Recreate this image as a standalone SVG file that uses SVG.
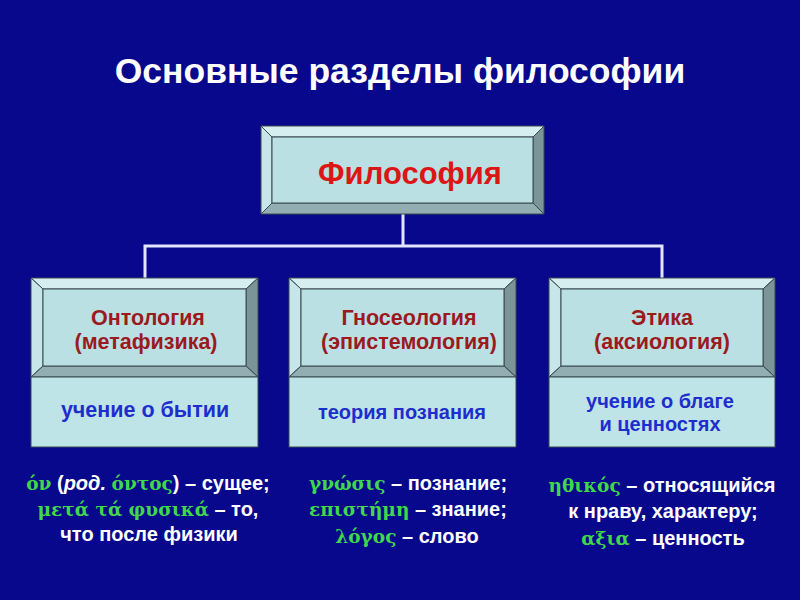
<svg xmlns="http://www.w3.org/2000/svg" width="800" height="600" viewBox="0 0 800 600">
<defs>
<style>
.bt{fill:#D6EEF0;stroke:#3A4A50;stroke-width:1}
.bl{fill:#C6E6EA;stroke:#3A4A50;stroke-width:1}
.br{fill:#7A9498;stroke:#3A4A50;stroke-width:1}
.bb{fill:#93AEB2;stroke:#3A4A50;stroke-width:1}
.face{fill:#BAE0E4;stroke:#3A4A50;stroke-width:1}
.low{fill:#BFE4E8;stroke:#3A4A50;stroke-width:1}
.conn{fill:none;stroke:#E4E4FF;stroke-width:3}
.t{font-family:"Liberation Sans",Arial,sans-serif;font-weight:bold;text-anchor:middle}
.head{fill:#FFFFFF;font-size:35.5px}
.main{fill:#DD1515;font-size:31px}
.sub{fill:#9A1A1E;font-size:21.5px}
.desc{fill:#1E2ECC;font-size:21.5px}
.w{fill:#FFFFFF;font-size:20px}
.g{font-family:"DejaVu Serif","Liberation Serif",serif;font-weight:bold;fill:#3ED84A;font-size:18.5px}
</style>
</defs>
<rect x="0" y="0" width="800" height="600" fill="#08088C"/>
<text class="t head" x="400" y="83">Основные разделы философии</text>

<g id="connectors">
<path class="conn" d="M403 214 V246 M145 278 V246 H662 V278"/>
</g>

<g id="philosophy">
<polygon class="bt" points="261,126 544,126 533,137 272,137"/>
<polygon class="bl" points="261,126 272,137 272,203 261,214"/>
<polygon class="br" points="544,126 544,214 533,203 533,137"/>
<polygon class="bb" points="261,214 272,203 533,203 544,214"/>
<rect class="face" x="272" y="137" width="261" height="66"/>
<text class="t main" x="410" y="184">Философия</text>
</g>

<g id="ontology">
<polygon class="bt" points="31,278 258,278 246,289 43,289"/>
<polygon class="bl" points="31,278 43,289 43,366 31,377"/>
<polygon class="br" points="258,278 258,377 246,366 246,289"/>
<polygon class="bb" points="31,377 43,366 246,366 258,377"/>
<rect class="face" x="43" y="289" width="203" height="77"/>
<rect class="low" x="31" y="377" width="227" height="70"/>
<text class="t sub" x="148" y="325">Онтология</text>
<text class="t sub" x="146" y="349">(метафизика)</text>
<text class="t desc" x="145" y="417">учение о бытии</text>
</g>

<g id="gnoseology">
<polygon class="bt" points="289,278 516,278 504,289 301,289"/>
<polygon class="bl" points="289,278 301,289 301,366 289,377"/>
<polygon class="br" points="516,278 516,377 504,366 504,289"/>
<polygon class="bb" points="289,377 301,366 504,366 516,377"/>
<rect class="face" x="301" y="289" width="203" height="77"/>
<rect class="low" x="289" y="377" width="227" height="70"/>
<text class="t sub" x="409" y="325">Гносеология</text>
<text class="t sub" x="409" y="349">(эпистемология)</text>
<text class="t desc" x="402" y="419" style="font-size:20px">теория познания</text>
</g>

<g id="ethics">
<polygon class="bt" points="549,278 775,278 763,289 561,289"/>
<polygon class="bl" points="549,278 561,289 561,366 549,377"/>
<polygon class="br" points="775,278 775,377 763,366 763,289"/>
<polygon class="bb" points="549,377 561,366 763,366 775,377"/>
<rect class="face" x="561" y="289" width="202" height="77"/>
<rect class="low" x="549" y="377" width="226" height="70"/>
<text class="t sub" x="662" y="325">Этика</text>
<text class="t sub" x="662" y="349">(аксиология)</text>
<text class="t desc" x="660" y="408" style="font-size:20px">учение о благе</text>
<text class="t desc" x="660" y="431" style="font-size:20px">и ценностях</text>
</g>

<g id="ontology-etym">
<text class="t w" x="148" y="490"><tspan class="g">όν</tspan> (<tspan font-style="italic">род.</tspan> <tspan class="g">όντος</tspan>) – сущее;</text>
<text class="t w" x="148" y="516"><tspan class="g">μετά τά φυσικά</tspan> – то,</text>
<text class="t w" x="149" y="541">что после физики</text>
</g>

<g id="gnoseology-etym">
<text class="t w" x="408" y="490"><tspan class="g">γνώσις</tspan> – познание;</text>
<text class="t w" x="408" y="516"><tspan class="g">επιστήμη</tspan> – знание;</text>
<text class="t w" x="407" y="543"><tspan class="g">λόγος</tspan> – слово</text>
</g>

<g id="ethics-etym">
<text class="t w" x="662" y="492"><tspan class="g">ηθικός</tspan> – относящийся</text>
<text class="t w" x="663" y="518">к нраву, характеру;</text>
<text class="t w" x="663" y="545"><tspan class="g">αξια</tspan> – ценность</text>
</g>
</svg>
